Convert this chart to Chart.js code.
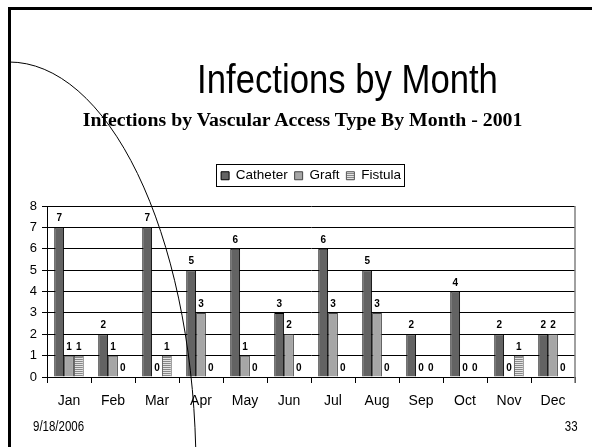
<!DOCTYPE html>
<html>
<head>
<meta charset="utf-8">
<script src="https://cdn.jsdelivr.net/npm/chart.js@4/dist/chart.umd.min.js"></script>
<style>
  html, body { margin: 0; padding: 0; background: #fff; }
  #slide { position: relative; width: 592px; height: 447px; overflow: hidden; background: #fff; }
  #chart { position: absolute; left: 0; top: 0; }
  .txt { position: absolute; white-space: nowrap; color: #000; }
  /* Arial Narrow look: Arial squeezed horizontally */
  #title { left: 0; width: 695px; top: 59px; text-align: center;
    font: 41px/41px "Liberation Sans", Arial, sans-serif;
    transform: scaleX(0.846); transform-origin: 347.5px 0; }
  #subtitle { left: 0; width: 605px; top: 109px; text-align: center;
    font: bold 19.8px/20px "Liberation Serif", "Times New Roman", serif; }
  #date { left: 33px; top: 419px; font: 14px/14px "Liberation Sans", Arial, sans-serif;
    transform: scaleX(0.82); transform-origin: 0 0; }
  #page { right: 14px; top: 419px; font: 14px/14px "Liberation Sans", Arial, sans-serif;
    transform: scaleX(0.82); transform-origin: 100% 0; }
  #frame { position: absolute; left: 8px; top: 7px; right: -10px; bottom: -10px;
    border-top: 3px solid #000; border-left: 3px solid #000; }
  #curve { position: absolute; left: 0; top: 0; }
</style>
</head>
<body>
<div id="slide">
  <canvas id="chart" width="592" height="447"></canvas>
  <div id="title" class="txt">Infections by Month</div>
  <div id="subtitle" class="txt">Infections by Vascular Access Type By Month - 2001</div>
  <div id="date" class="txt">9/18/2006</div>
  <div id="page" class="txt">33</div>
  <svg id="curve" width="592" height="447">
    <path d="M 9 62 A 187 408 0 0 1 195.7 447" fill="none" stroke="#000" stroke-width="1"/>
  </svg>
  <div id="frame"></div>
</div>
<script>
// data
const months = ['Jan', 'Feb', 'Mar', 'Apr', 'May', 'Jun', 'Jul', 'Aug', 'Sep', 'Oct', 'Nov', 'Dec'];
const catheter = [7, 2, 7, 5, 6, 3, 6, 5, 2, 4, 2, 2];
const graft    = [1, 1, 0, 3, 1, 2, 3, 3, 0, 0, 0, 2];
const fistula  = [1, 0, 1, 0, 0, 0, 0, 0, 0, 0, 1, 0];
const yMin = 0, yMax = 8, yStep = 1;

const arial = '"Liberation Sans", Arial, sans-serif';

// horizontal stripes for the fistula bars
function stripes() {
  const c = document.createElement('canvas');
  c.width = 4; c.height = 2;
  const g = c.getContext('2d');
  g.fillStyle = '#e4e4e4'; g.fillRect(0, 0, 4, 2);
  g.fillStyle = '#888888'; g.fillRect(0, 1, 4, 1);
  return g.createPattern(c, 'repeat');
}

// numbers above every bar
const valueLabels = {
  id: 'valueLabels',
  afterDatasetsDraw(chart) {
    const ctx = chart.ctx;
    ctx.save();
    ctx.font = 'bold 10px ' + arial;
    ctx.fillStyle = '#000';
    ctx.textAlign = 'center';
    ctx.textBaseline = 'alphabetic';
    chart.data.datasets.forEach((ds, i) => {
      chart.getDatasetMeta(i).data.forEach((bar, j) => {
        ctx.fillText(String(ds.data[j]), bar.x, bar.y - 6);
      });
    });
    ctx.restore();
  }
};

// grey right edge of the plot + box round the legend
const frames = {
  id: 'frames',
  afterDraw(chart) {
    const ctx = chart.ctx;
    const a = chart.chartArea;
    ctx.save();
    ctx.strokeStyle = '#808080';
    ctx.lineWidth = 1.5;
    ctx.beginPath();
    ctx.moveTo(a.right, a.top);
    ctx.lineTo(a.right, a.bottom + 6);
    ctx.stroke();

    const hb = chart.legend.legendHitBoxes;
    if (hb && hb.length) {
      const x0 = Math.min(...hb.map(b => b.left)) - 5;
      const x1 = Math.max(...hb.map(b => b.left + b.width)) + 3;
      const y0 = Math.min(...hb.map(b => b.top));
      const y1 = Math.max(...hb.map(b => b.top + b.height));
      const cy = (y0 + y1) / 2;
      ctx.strokeStyle = '#000';
      ctx.lineWidth = 1;
      ctx.strokeRect(Math.round(x0) + 0.5, Math.round(cy - 11) - 0.5, Math.round(x1 - x0), 22);
    }
    ctx.restore();
  }
};

const ctx = document.getElementById('chart').getContext('2d');
new Chart(ctx, {
  type: 'bar',
  data: {
    labels: months,
    datasets: [
      { label: 'Catheter', data: catheter, backgroundColor: '#636363', borderColor: '#000', borderWidth: 1 },
      { label: 'Graft', data: graft, backgroundColor: '#a6a6a6', borderColor: '#444', borderWidth: 1 },
      { label: 'Fistula', data: fistula, backgroundColor: stripes(), borderColor: '#555', borderWidth: 1 }
    ]
  },
  options: {
    responsive: false,
    devicePixelRatio: 1,
    animation: false,
    layout: { padding: { left: 9, right: 17, top: 162, bottom: 35 } },
    datasets: { bar: { categoryPercentage: 0.67, barPercentage: 1, borderSkipped: 'bottom' } },
    plugins: {
      legend: {
        position: 'top',
        fullSize: false,
        labels: { boxWidth: 8, boxHeight: 8, padding: 7, color: '#000', font: { family: arial, size: 13.5 } }
      },
      // empty spacer between legend and plot
      subtitle: { display: true, text: '', weight: 500, padding: 0, font: { size: 13.5, lineHeight: 1 } },
      title: { display: false },
      tooltip: { enabled: false }
    },
    scales: {
      x: {
        grid: { display: true, drawOnChartArea: false, drawTicks: true, tickLength: 6, color: '#000', offset: true },
        border: { display: true, color: '#000' },
        ticks: { color: '#000', padding: 10, font: { family: arial, size: 14 } },
        afterFit(s) { s.height = 35; }
      },
      y: {
        min: yMin, max: yMax,
        grid: { color: '#000', lineWidth: 1, tickLength: 5 },
        border: { display: true, color: '#000' },
        ticks: { stepSize: yStep, color: '#000', padding: 5, font: { family: arial, size: 13 } },
        afterFit(s) { s.width = 38; }
      }
    }
  },
  plugins: [valueLabels, frames]
});
</script>
</body>
</html>
